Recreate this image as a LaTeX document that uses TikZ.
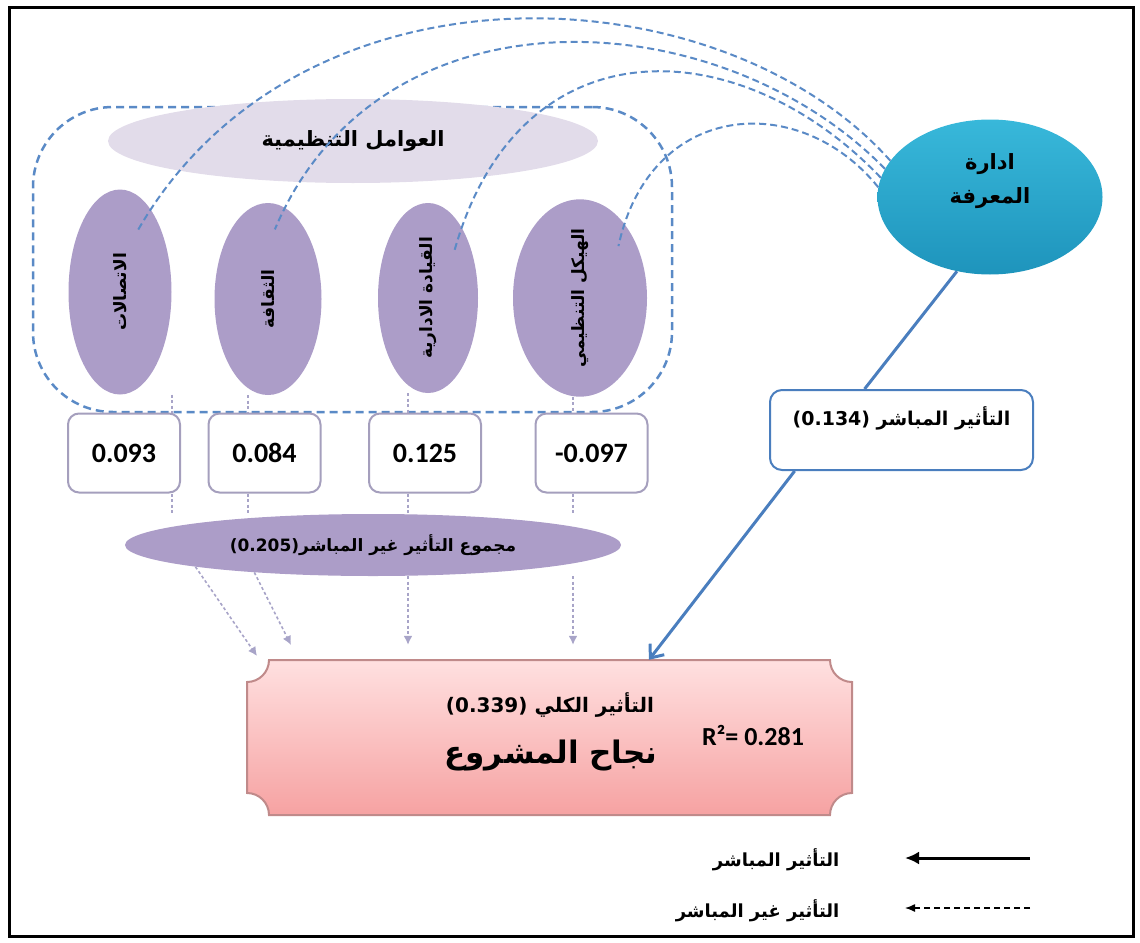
\documentclass[tikz,border=0pt]{standalone}
\usepackage{fontspec}
\usepackage{graphicx}
\setmainfont{Carlito}
\newfontfamily\arabicfont[Script=Arabic]{DejaVu Sans}
\TeXXeTstate=1
\usetikzlibrary{shapes.geometric,arrows.meta,positioning}
\newcommand{\artext}[1]{{\arabicfont\bfseries\beginR #1\endR}}
\definecolor{factorfill}{HTML}{AC9DC8}
\definecolor{headfill}{HTML}{E2DCEA}
\definecolor{boxline}{HTML}{A59FBD}
\definecolor{dotline}{HTML}{A8A4C8}
\definecolor{linkblue}{HTML}{5A8AC6}
\definecolor{directblue}{HTML}{4A7EBE}
\definecolor{kmtop}{HTML}{38B8DA}
\definecolor{kmbot}{HTML}{1E94BC}
\definecolor{plaqtop}{HTML}{FFE0E0}
\definecolor{plaqbot}{HTML}{F6A2A2}
\definecolor{plaqline}{HTML}{C08A8A}
\begin{document}
\begin{tikzpicture}[x=1pt,y=-1pt,
  factor/.style={ellipse, fill=factorfill, inner sep=0pt, font=\fontsize{17}{19}\selectfont},
  headell/.style={ellipse, fill=headfill, inner sep=0pt, minimum width=490, minimum height=84, font=\fontsize{21}{23}\selectfont},
  groupbox/.style={draw=linkblue, line width=2.5pt, dash pattern=on 8pt off 5pt, rounded corners=80pt, inner sep=0pt},
  valbox/.style={draw=boxline, line width=2pt, fill=white, rounded corners=11pt, minimum width=112, minimum height=79, font=\fontsize{28}{30}\selectfont\bfseries},
  sumell/.style={ellipse, fill=factorfill, inner sep=0pt, minimum width=496, minimum height=62, font=\fontsize{17}{19}\selectfont},
  kmell/.style={ellipse, top color=kmtop, bottom color=kmbot, inner sep=0pt, minimum width=225, minimum height=155},
  kmtext/.style={align=center, font=\fontsize{21}{34}\selectfont},
  dirbox/.style={draw=directblue, line width=2pt, fill=white, rounded corners=12pt, minimum width=263, minimum height=80, text height=22pt, text depth=32pt, font=\fontsize{19}{21}\selectfont},
  link/.style={draw=linkblue, line width=2pt, dash pattern=on 7pt off 4pt, shorten >=-24pt},
  indirect/.style={draw=dotline, line width=1.6pt, dash pattern=on 3pt off 2.5pt},
  indarrow/.style={indirect, -{Latex[length=9pt, width=9pt, fill=dotline]}},
  direct/.style={draw=directblue, line width=3pt},
  legtext/.style={anchor=east, font=\fontsize{18}{20}\selectfont}
]
\useasboundingbox (0,0) rectangle (1140,942);
\draw[line width=3pt] (9,8) rectangle (1133,936);

% organisational factors
\node[groupbox, minimum width=639, minimum height=305] (grp) at (352.5,259.5) {};
\node[headell] (head) at (353,141) {\artext{العوامل التنظيمية}};
\node[factor, minimum width=103, minimum height=205] (e1) at (120,292) {\rotatebox{90}{\artext{الاتصالات}}};
\node[factor, minimum width=107, minimum height=192] (e2) at (268,299) {\rotatebox{90}{\artext{الثقافة}}};
\node[factor, minimum width=100, minimum height=190] (e3) at (428,298) {\rotatebox{90}{\artext{القيادة الادارية}}};
\node[factor, minimum width=134, minimum height=190] (e4) at (580,298) {\rotatebox{90}{\artext{الهيكل التنظيمي}}};

\node[valbox] (v1) at (124,453) {0.093};
\node[valbox] (v2) at (264.5,453) {0.084};
\node[valbox] (v3) at (425,453) {0.125};
\node[valbox] (v4) at (591.5,453) {-0.097};

\node[sumell] (sum) at (373,545) {\artext{مجموع التأثير غير المباشر\beginL(0.205)\endL}};

\node[kmell] (km) at (990,197) {};
\node[kmtext] (kmlabel) at (990,181) {\artext{ادارة}\\\artext{المعرفة}};
\node[dirbox] (dir) at (901.5,430) {\artext{التأثير المباشر \beginL(0.134)\endL}};

% project success plaque
\path[draw=plaqline, line width=2pt, top color=plaqtop, bottom color=plaqbot]
  (269,660) -- (830,660) arc[start angle=180, end angle=90, radius=22]
  -- (852,793) arc[start angle=270, end angle=180, radius=22]
  -- (269,815) arc[start angle=0, end angle=-90, radius=22]
  -- (247,682) arc[start angle=90, end angle=0, radius=22] -- cycle;
\node[minimum width=605, minimum height=155, inner sep=0pt] (succ) at (549.5,737.5) {};
\node[font=\fontsize{20}{22}\selectfont] (total) at (550,705) {\artext{التأثير الكلي \beginL(0.339)\endL}};
\node[font=\fontsize{31}{33}\selectfont] (title) at (551,755) {\artext{نجاح المشروع}};
\node[font=\fontsize{26}{28}\selectfont\bfseries] (rsq) at (753,735) {R²= 0.281};

% knowledge management links
\draw[link] (km.160) .. controls (720,-30) and (300,-50) .. (e1.70);
\draw[link] (km.165) .. controls (720,0) and (380,-20) .. (e2.80);
\draw[link] (km.170) .. controls (740,30) and (520,20) .. (e3.65);
\draw[link] (km.175) .. controls (800,90) and (650,100) .. (e4.60);

\draw[direct] (km.246) -- (dir.132);
\draw[direct, -{Straight Barb[length=11pt, width=18pt, line width=3pt]}] (dir.201) -- (succ.38);

% indirect paths
\coordinate (c1) at (172,0);
\coordinate (c2) at (248,0);
\coordinate (c3) at (408,0);
\coordinate (c4) at (573,0);
\coordinate (t1) at (257,656);
\coordinate (t2) at (291,645);
\draw[indirect] (e1.south -| c1) -- (v1.north -| c1);
\draw[indirect] (e2.south -| c2) -- (v2.north -| c2);
\draw[indirect] (e3.south -| c3) -- (v3.north -| c3);
\draw[indirect] (e4.south -| c4) -- (v4.north -| c4);
\draw[indirect] (v1.south -| c1) -- (sum.north -| c1);
\draw[indirect] (v2.south -| c2) -- (sum.north -| c2);
\draw[indirect] (v3.south -| c3) -- (sum.north -| c3);
\draw[indirect] (v4.south -| c4) -- (sum.north -| c4);
\draw[indarrow] (sum.187) -- (t1);
\draw[indarrow] (sum.193) -- (t2);
\draw[indarrow, shorten >=15pt] (sum.south -| c3) -- (succ.north -| c3);
\draw[indarrow, shorten >=15pt] (sum.south -| c4) -- (succ.north -| c4);

% legend
\node[legtext] (lgdir) at (843,860) {\artext{التأثير المباشر}};
\node[legtext] (lgind) at (843,911) {\artext{التأثير غير المباشر}};
\coordinate (lgdira) at (1030,858);
\coordinate (lgdirb) at (905,858);
\coordinate (lginda) at (1030,908);
\coordinate (lgindb) at (905,908);
\draw[line width=3pt, -{Latex[length=14pt, width=13pt]}] (lgdira) -- (lgdirb);
\draw[line width=1.3pt, dash pattern=on 6pt off 4pt, -{Latex[length=10pt, width=8pt]}] (lginda) -- (lgindb);
\end{tikzpicture}
\end{document}
